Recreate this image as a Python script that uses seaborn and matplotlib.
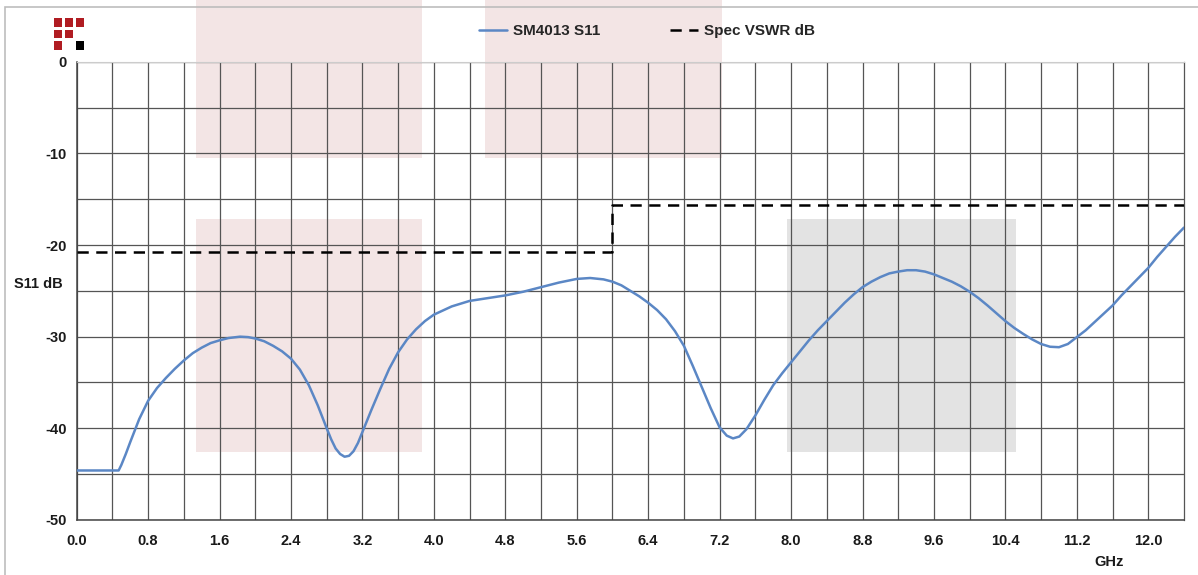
import numpy as np
import pandas as pd
import matplotlib
matplotlib.use('Agg')
import matplotlib.pyplot as plt
from matplotlib.patches import Rectangle
import seaborn as sns

sns.set_style(style='white')
plt.rcParams['font.family'] = ['Liberation Sans', 'DejaVu Sans']
plt.rcParams['axes.unicode_minus'] = False

freq_ghz = [0.0, 0.47, 0.5, 0.55, 0.6, 0.7, 0.8, 0.9, 1.0, 1.1, 1.2, 1.3, 1.4,
            1.5, 1.6, 1.7, 1.83, 1.92, 2.0, 2.1, 2.2, 2.3, 2.4, 2.5, 2.6, 2.7,
            2.8, 2.85, 2.9, 2.95, 3.0, 3.05, 3.1, 3.15, 3.2, 3.3, 3.4, 3.5,
            3.6, 3.7, 3.8, 3.9, 4.0, 4.2, 4.4, 4.6, 4.8, 5.0, 5.2, 5.4, 5.6,
            5.75, 5.9, 6.0, 6.1, 6.2, 6.3, 6.4, 6.5, 6.6, 6.7, 6.8, 6.9, 7.0,
            7.1, 7.2, 7.28, 7.35, 7.42, 7.5, 7.6, 7.7, 7.8, 7.9, 8.0, 8.1,
            8.2, 8.3, 8.4, 8.5, 8.6, 8.7, 8.8, 8.9, 9.0, 9.1, 9.2, 9.3, 9.4,
            9.5, 9.6, 9.7, 9.8, 9.9, 10.0, 10.1, 10.2, 10.3, 10.4, 10.5, 10.6,
            10.7, 10.8, 10.9, 11.0, 11.1, 11.2, 11.3, 11.4, 11.5, 11.6, 11.7,
            11.8, 11.9, 12.0, 12.1, 12.2, 12.3, 12.4]
s11_db = [-44.6, -44.6, -44.0, -42.8, -41.5, -39.0, -37.0, -35.6, -34.5,
          -33.5, -32.6, -31.8, -31.2, -30.7, -30.4, -30.15, -30.0, -30.05,
          -30.2, -30.5, -31.0, -31.6, -32.4, -33.6, -35.3, -37.5, -40.0,
          -41.2, -42.2, -42.8, -43.1, -43.0, -42.5, -41.6, -40.4, -38.0,
          -35.7, -33.5, -31.7, -30.3, -29.2, -28.3, -27.6, -26.7, -26.1,
          -25.8, -25.5, -25.1, -24.6, -24.1, -23.7, -23.6, -23.75, -24.0,
          -24.4, -25.0, -25.6, -26.3, -27.1, -28.1, -29.4, -31.0, -33.2,
          -35.5, -37.8, -39.9, -40.8, -41.1, -40.9, -40.1, -38.6, -36.9,
          -35.3, -34.0, -32.8, -31.6, -30.4, -29.3, -28.3, -27.3, -26.3,
          -25.4, -24.6, -24.0, -23.5, -23.1, -22.9, -22.75, -22.75, -22.9,
          -23.2, -23.6, -24.0, -24.5, -25.1, -25.8, -26.6, -27.45, -28.3,
          -29.05, -29.7, -30.3, -30.8, -31.1, -31.15, -30.8, -30.05, -29.3,
          -28.4, -27.5, -26.6, -25.5, -24.5, -23.5, -22.5, -21.3, -20.2,
          -19.1, -18.1]

# spec limit: VSWR 1.2 up to 6 GHz, VSWR 1.4 above
spec_ghz = [0.0, 6.0, 6.0, 12.4]
spec_db = [-20.8, -20.8, -15.6, -15.6]

# highlight boxes: (x0, x1, y0, y1) in GHz / dB, None = up to top of figure
boxes_pink = [(1.34, 3.87, -10.5, None), (4.57, 7.23, -10.5, None),
              (1.34, 3.87, -42.6, -17.2)]
boxes_gray = [(7.95, 10.52, -42.6, -17.2)]

x_ticks = np.arange(0, 12.01, 0.8)
y_ticks = [0, -10, -20, -30, -40, -50]


def main():
    fig = plt.figure(figsize=(11.98, 5.75), dpi=100)
    ax = fig.add_axes([0.064, 0.0957, 0.9243, 0.797])

    df = pd.DataFrame({'freq': freq_ghz, 's11': s11_db})
    spec = pd.DataFrame({'freq': spec_ghz, 'db': spec_db})

    sns.lineplot(data=df, x='freq', y='s11', color='#5b87c5', linewidth=1.8,
                 estimator=None, sort=False, label='SM4013 S11', ax=ax, zorder=4)
    sns.lineplot(data=spec, x='freq', y='db', color='black', linewidth=1.8,
                 estimator=None, sort=False, label='Spec VSWR dB', ax=ax,
                 zorder=4)
    ax.lines[0].set_solid_joinstyle('round')
    ax.lines[-1].set_linestyle((0, (4.5, 3)))

    for boxes, col in [(boxes_pink, '#f3e5e5'), (boxes_gray, '#e3e3e3')]:
        for x0, x1, y0, y1 in boxes:
            top = 7 if y1 is None else y1
            ax.add_patch(Rectangle((x0, y0), x1 - x0, top - y0, facecolor=col,
                                   edgecolor='none', zorder=0.2, clip_on=False))

    ax.set_xlim(0, 12.4)
    ax.set_ylim(-50, 0)
    ax.set_xticks(x_ticks)
    ax.set_xticks(np.arange(0.4, 12.4, 0.8), minor=True)
    ax.set_xticklabels([f'{t:.1f}' for t in x_ticks])
    ax.set_yticks(y_ticks)
    ax.set_yticks([-5, -15, -25, -35, -45], minor=True)
    ax.set_axisbelow(True)
    ax.grid(True, which='both', color='#555555', linewidth=0.9)
    ax.tick_params(axis='x', which='both', length=0, pad=10)
    ax.tick_params(axis='y', which='major', length=4, width=0.9, color='#555555', pad=3)
    ax.tick_params(axis='y', which='minor', length=0)
    for lab in ax.get_xticklabels() + ax.get_yticklabels():
        lab.set_fontsize(10.5)
        lab.set_fontweight('bold')
        lab.set_color('#1a1a1a')

    for side in ['left', 'bottom']:
        ax.spines[side].set_color('#444444')
        ax.spines[side].set_linewidth(1.1)
    ax.spines['top'].set_color('#cccccc')
    ax.spines['right'].set_color('#555555')
    ax.spines['right'].set_linewidth(0.9)

    ax.set_ylabel('S11 dB', rotation=0, fontsize=10.5, fontweight='bold', color='#1a1a1a')
    ax.yaxis.set_label_coords(-0.035, 0.5)
    ax.set_xlabel('GHz', fontsize=10.5, fontweight='bold', color='#1a1a1a')
    ax.xaxis.set_label_coords(0.932, -0.077)

    handles, labels = ax.get_legend_handles_labels()
    ax.get_legend().remove()
    fig.legend(handles=handles, labels=labels, loc='center', ncol=2,
               bbox_to_anchor=(0.54, 0.946), frameon=False, handlelength=1.8,
               handletextpad=0.4, columnspacing=4.6,
               prop={'size': 11, 'weight': 'bold'})

    # outer frame and logo
    fig.patches.append(Rectangle((5 / 1198, -0.1), 1.2, 0.1 + 1 - 7 / 575,
                                 transform=fig.transFigure, facecolor='none',
                                 edgecolor='#bdbdbd', linewidth=1.2))
    cells = [(0, 0, '#b01c22'), (1, 0, '#b01c22'), (2, 0, '#b01c22'),
             (0, 1, '#b01c22'), (1, 1, '#b01c22'),
             (0, 2, '#b01c22'), (2, 2, 'black')]
    for c, r, col in cells:
        x0 = 54 + c * 10.8
        y0 = 18.3 + r * 11.5
        fig.patches.append(Rectangle((x0 / 1198, 1 - (y0 + 8.2) / 575),
                                     8.2 / 1198, 8.2 / 575,
                                     transform=fig.transFigure,
                                     facecolor=col, edgecolor='none'))

    fig.savefig('out.png', dpi=100)


if __name__ == '__main__':
    main()
